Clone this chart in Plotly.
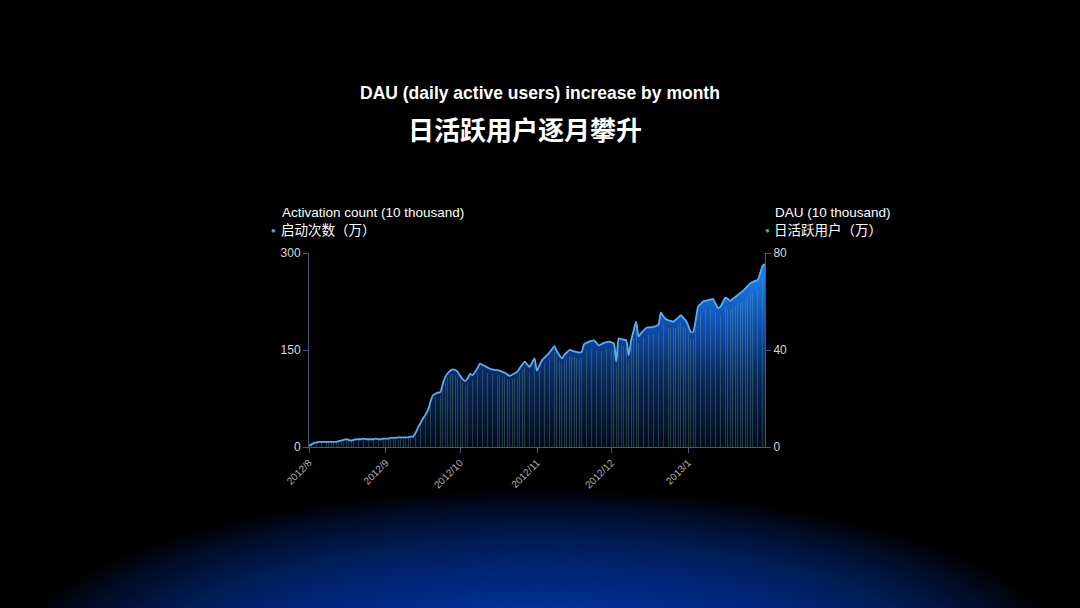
import pandas as pd
import plotly.graph_objects as go

# daily activation count (10 thousand), 2012-08-01 .. 2013-02-01
activation = [
    2, 4, 6, 7, 8, 8, 8, 8, 8, 8,
    8, 8, 9, 10, 11, 12, 11, 10, 11, 12,
    12, 12, 13, 12, 12, 12, 12, 13, 12, 12,
    13, 13, 13, 14, 14, 14, 15, 15, 15, 15,
    15, 16, 16, 22, 30, 37, 44, 50, 57, 70,
    80, 82, 84, 85, 98, 108, 114, 118, 120, 119,
    116, 110, 105, 102, 106, 113, 111, 116, 122, 129,
    127, 125, 123, 121, 120, 119, 119, 118, 116, 115,
    112, 110, 112, 114, 116, 122, 127, 132, 128, 124,
    130, 137, 118, 126, 134, 138, 142, 146, 151, 156,
    148, 142, 137, 142, 146, 150, 149, 148, 147, 146,
    147, 159, 161, 163, 164, 165, 161, 157, 159, 161,
    162, 163, 162, 160, 132, 168, 167, 166, 165, 142,
    165, 180, 194, 171, 176, 180, 184, 185, 185, 186,
    187, 189, 208, 202, 198, 196, 195, 194, 197, 200,
    204, 200, 196, 188, 178, 178, 195, 217, 221, 225,
    226, 227, 228, 229, 222, 215, 217, 224, 231, 229,
    226, 229, 232, 235, 238, 241, 245, 249, 253, 255,
    257, 258, 268, 280, 283,
]

# daily active users (10 thousand)
dau = [
    0.5, 1, 1.5, 1.8, 2, 2, 2, 2, 2, 2,
    2, 2, 2.2, 2.5, 2.8, 3, 2.8, 2.5, 2.8, 3,
    3, 3, 3.2, 3, 3, 3, 3, 3.2, 3, 3,
    3.2, 3.2, 3.2, 3.5, 3.5, 3.5, 3.7, 3.7, 3.7, 3.7,
    3.7, 4, 4, 5.5, 7.5, 9.2, 11, 12.5, 14.2, 17.5,
    20, 20.5, 21, 21.2, 24.5, 27, 28.5, 29.5, 30, 29.8,
    29, 27.5, 26.2, 25.5, 26.5, 28.2, 27.7, 29, 30.5, 32.2,
    31.7, 31.2, 30.7, 30.2, 30, 29.7, 29.7, 29.5, 29, 28.7,
    28, 27.5, 28, 28.5, 29, 30.5, 31.7, 33, 32, 31,
    32.5, 34.2, 29.5, 31.5, 33.5, 34.5, 35.5, 36.5, 37.7, 39,
    37, 35.5, 34.2, 35.5, 36.5, 37.5, 37.2, 37, 36.7, 36.5,
    36.7, 39.7, 40.2, 40.7, 41, 41.2, 40.2, 39.2, 39.7, 40.2,
    40.5, 40.7, 40.5, 40, 33, 42, 41.7, 41.5, 41.2, 35.5,
    41.2, 45, 48.5, 42.7, 44, 45, 46, 46.2, 46.2, 46.5,
    46.7, 47.2, 52, 50.5, 49.5, 49, 48.7, 48.5, 49.2, 50,
    51, 50, 49, 47, 44.5, 44.5, 48.7, 54.2, 55.2, 56.2,
    56.5, 56.7, 57, 57.2, 55.5, 53.7, 54.2, 56, 57.7, 57.2,
    56.5, 57.2, 58, 58.7, 59.5, 60.2, 61.2, 62.2, 63.2, 63.7,
    64.2, 64.5, 67, 70, 70.7,
]

dates = pd.date_range("2012-08-01", periods=len(activation), freq="D")

month_ticks = ["2012-08-01", "2012-09-01", "2012-10-01", "2012-11-01", "2012-12-01", "2013-01-01"]
month_labels = ["2012/8", "2012/9", "2012/10", "2012/11", "2012/12", "2013/1"]

FONT = "Liberation Sans, Arial, Noto Sans CJK SC, sans-serif"
CJK = "Noto Sans CJK SC"
AXIS_COLOR = "#3d5a80"


# plot area spans x 309..765, y 253..447 in page pixels
def px(x):
    return (x - 309) / 456


def py(y):
    return (447 - y) / 194


fig = go.Figure()

fig.add_trace(go.Scatter(
    x=dates, y=activation, mode="lines", fill="tozeroy",
    line=dict(color="#5aaef5", width=1.8, shape="spline", smoothing=0.6),
    fillgradient=dict(type="vertical", start=0, stop=300,
                      colorscale=[[0, "#040c1e"], [0.35, "#0a2858"], [0.6, "#0f4aa8"], [1, "#1e8fff"]]),
    showlegend=False, hoverinfo="skip",
))

fig.add_trace(go.Bar(
    x=dates, y=dau, yaxis="y2", width=0.3 * 86400000,
    marker=dict(color="rgba(140,200,150,0.24)", line=dict(width=0)),
    showlegend=False, hoverinfo="skip",
))

# soft blue glow at the bottom of the page
n = 40
for i in range(n):
    k = 1 - i * 0.9 / n
    rx = 520 * k ** 0.8
    ry = 165 * k
    cx, cy = 540, 655
    fig.add_shape(
        type="circle", xref="paper", yref="paper", layer="below",
        x0=px(cx - rx), x1=px(cx + rx),
        y0=py(cy + ry), y1=py(cy - ry),
        fillcolor="rgba(28,95,235,0.034)", line=dict(width=0),
    )

fig.add_annotation(text="<b>DAU (daily active users) increase by month</b>", x=px(540), y=py(93),
                   xref="paper", yref="paper", showarrow=False, xanchor="center", yanchor="middle",
                   font=dict(family=FONT, size=17.5, color="white"))
fig.add_annotation(text="<b>日活跃用户逐月攀升</b>", x=px(525), y=py(128),
                   xref="paper", yref="paper", showarrow=False, xanchor="center", yanchor="middle",
                   font=dict(family=CJK, size=26, color="white"))

fig.add_annotation(text="Activation count (10 thousand)", x=px(280), y=py(212),
                   xref="paper", yref="paper", showarrow=False, xanchor="left", yanchor="middle",
                   font=dict(family=FONT, size=13.5, color="white"))
fig.add_annotation(text="启动次数（万）", x=px(279), y=py(229),
                   xref="paper", yref="paper", showarrow=False, xanchor="left", yanchor="middle",
                   font=dict(family=CJK, size=13.5, color="white"))
fig.add_annotation(text="●", x=px(273), y=py(229),
                   xref="paper", yref="paper", showarrow=False, xanchor="center", yanchor="middle",
                   font=dict(size=8, color="#3aa6e8"))

fig.add_annotation(text="DAU (10 thousand)", x=px(773), y=py(212),
                   xref="paper", yref="paper", showarrow=False, xanchor="left", yanchor="middle",
                   font=dict(family=FONT, size=13.5, color="white"))
fig.add_annotation(text="日活跃用户（万）", x=px(772), y=py(229),
                   xref="paper", yref="paper", showarrow=False, xanchor="left", yanchor="middle",
                   font=dict(family=CJK, size=13.5, color="white"))
fig.add_annotation(text="●", x=px(767), y=py(229),
                   xref="paper", yref="paper", showarrow=False, xanchor="center", yanchor="middle",
                   font=dict(size=8, color="#4caf50"))

fig.update_layout(
    width=1080, height=608,
    margin=dict(l=309, r=315, t=253, b=161),
    paper_bgcolor="#000000", plot_bgcolor="rgba(0,0,0,0)",
    bargap=0,
    xaxis=dict(
        range=["2012-08-01", "2013-02-01"], tickvals=month_ticks, ticktext=month_labels,
        tickangle=-45, ticks="outside", ticklen=5, tickcolor=AXIS_COLOR,
        showline=True, linecolor=AXIS_COLOR, linewidth=1, showgrid=False, zeroline=False,
        tickfont=dict(family=FONT, size=10, color="#b0b0b0"),
    ),
    yaxis=dict(
        range=[0, 300], tickvals=[0, 150, 300], ticks="outside", ticklen=5, tickcolor=AXIS_COLOR,
        showline=True, linecolor=AXIS_COLOR, linewidth=1, showgrid=False, zeroline=False,
        tickfont=dict(family=FONT, size=12, color="#d8d8d8"),
    ),
    yaxis2=dict(
        range=[0, 80], tickvals=[0, 40, 80], overlaying="y", side="right",
        ticks="outside", ticklen=5, tickcolor=AXIS_COLOR,
        showline=True, linecolor=AXIS_COLOR, linewidth=1, showgrid=False, zeroline=False,
        tickfont=dict(family=FONT, size=12, color="#d8d8d8"),
    ),
)

fig.write_html("out.html", config={"displayModeBar": False},
               post_script="document.body.style.margin='0';document.body.style.background='#000';")
